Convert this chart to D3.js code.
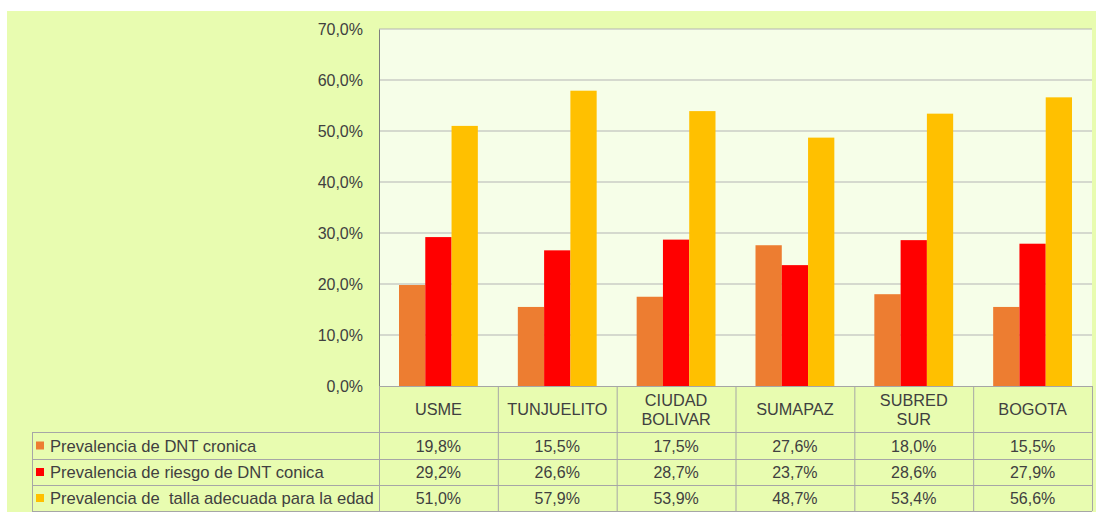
<!DOCTYPE html>
<html lang="en">
<head>
    <script src="https://d3js.org/d3.v7.min.js"></script>
</head>
<style>
    body { margin: 0; background: #fff; }
    text { font-family: "Liberation Sans", Arial, sans-serif; fill: #404040; white-space: pre; }
</style>
<body>
<script>
    // chart data
    const categories = ["USME", "TUNJUELITO", "CIUDAD\nBOLIVAR", "SUMAPAZ", "SUBRED\nSUR", "BOGOTA"]
    const seriesNames = ["Prevalencia de DNT cronica", "Prevalencia de riesgo de DNT conica", "Prevalencia de  talla adecuada para la edad"]
    const cronica = [19.8, 15.5, 17.5, 27.6, 18.0, 15.5]
    const riesgo = [29.2, 26.6, 28.7, 23.7, 28.6, 27.9]
    const adecuada = [51.0, 57.9, 53.9, 48.7, 53.4, 56.6]
    const yTicks = [0, 10, 20, 30, 40, 50, 60, 70]
    const colors = ["#ED7D31", "#FF0000", "#FFC000"]

    const w = 1096
    const h = 512
    const series = [cronica, riesgo, adecuada]

    let svg = d3.select("body")
        .append("svg")
        .attr("width", w)
        .attr("height", h)

    // outer background
    svg.append("rect")
        .attr("x", 7).attr("y", 11)
        .attr("width", w - 7).attr("height", h - 11)
        .attr("fill", "#E8FCB0")

    const plotL = 379, plotR = 1092, plotT = 29, plotB = 386
    const tableL = 32
    const rowY = [386, 432, 459, 485, 511]

    let yScale = d3.scaleLinear().domain([0, 70]).range([plotB, plotT])
    let x0 = d3.scaleBand().domain(d3.range(categories.length)).range([plotL, plotR])
    let x1 = d3.scaleBand().domain(d3.range(series.length)).range([20, x0.bandwidth() - 20])

    // plot area
    svg.append("rect")
        .attr("x", plotL).attr("y", plotT)
        .attr("width", plotR - plotL).attr("height", plotB - plotT)
        .attr("fill", "#F6FEE8")

    // gridlines
    svg.append("g")
        .selectAll("line")
        .data(yTicks.filter(d => d > 0))
        .enter()
        .append("line")
        .attr("x1", plotL).attr("x2", plotR)
        .attr("y1", d => yScale(d)).attr("y2", d => yScale(d))
        .attr("stroke", "#b4b4b4")
        .attr("stroke-width", 1)

    // y axis
    let yaxis = d3.axisLeft(yScale)
        .tickValues(yTicks)
        .tickSize(0)
        .tickPadding(16)
        .tickFormat(d => d.toFixed(1).replace(".", ",") + "%")
    let ya = svg.append("g")
        .attr("transform", "translate(" + plotL + ",0)")
        .call(yaxis)
    ya.select(".domain").attr("stroke", "#7f7f7f")
    ya.selectAll("text")
        .attr("font-size", "16px")
        .attr("fill", "#404040")
        .style("font-family", "'Liberation Sans', Arial, sans-serif")

    // bars
    series.forEach((vals, si) => {
        svg.append("g")
            .selectAll("rect")
            .data(vals)
            .enter()
            .append("rect")
            .attr("x", (d, i) => x0(i) + x1(si))
            .attr("y", d => yScale(d))
            .attr("width", x1.bandwidth())
            .attr("height", d => plotB - yScale(d))
            .attr("fill", colors[si])
    })

    // data table
    let tbl = svg.append("g")
    const lineCol = "#a6a6a6"
    // horizontal lines
    rowY.forEach((y, i) => {
        tbl.append("line")
            .attr("x1", i === 0 ? plotL : tableL).attr("x2", plotR)
            .attr("y1", y + 0.5).attr("y2", y + 0.5)
            .attr("stroke", lineCol)
    })
    // vertical lines
    d3.range(categories.length + 1).forEach(i => {
        let x = i < categories.length ? x0(i) : plotR
        tbl.append("line")
            .attr("x1", x + 0.5).attr("x2", x + 0.5)
            .attr("y1", rowY[0]).attr("y2", rowY[4])
            .attr("stroke", lineCol)
    })
    tbl.append("line")
        .attr("x1", tableL + 0.5).attr("x2", tableL + 0.5)
        .attr("y1", rowY[1]).attr("y2", rowY[4])
        .attr("stroke", lineCol)

    // category headers
    categories.forEach((c, i) => {
        let lines = c.split("\n")
        let cx = x0(i) + x0.bandwidth() / 2
        let cy = (rowY[0] + rowY[1]) / 2
        let t = tbl.append("text")
            .attr("text-anchor", "middle")
            .attr("font-size", "16.3px")
        lines.forEach((l, li) => {
            t.append("tspan")
                .attr("x", cx)
                .attr("y", cy + 6 + (li - (lines.length - 1) / 2) * 19)
                .text(l)
        })
    })

    // legend + values
    series.forEach((vals, si) => {
        let cy = (rowY[si + 1] + rowY[si + 2]) / 2
        tbl.append("rect")
            .attr("x", 36).attr("y", cy - 4)
            .attr("width", 8).attr("height", 8)
            .attr("fill", colors[si])
        tbl.append("text")
            .attr("x", 50).attr("y", cy + 6)
            .attr("font-size", "16.6px")
            .text(seriesNames[si])
        tbl.selectAll(null)
            .data(vals)
            .enter()
            .append("text")
            .attr("x", (d, i) => x0(i) + x0.bandwidth() / 2)
            .attr("y", cy + 6)
            .attr("text-anchor", "middle")
            .attr("font-size", "16px")
            .text(d => d.toFixed(1).replace(".", ",") + "%")
    })
</script>
</body>
</html>
